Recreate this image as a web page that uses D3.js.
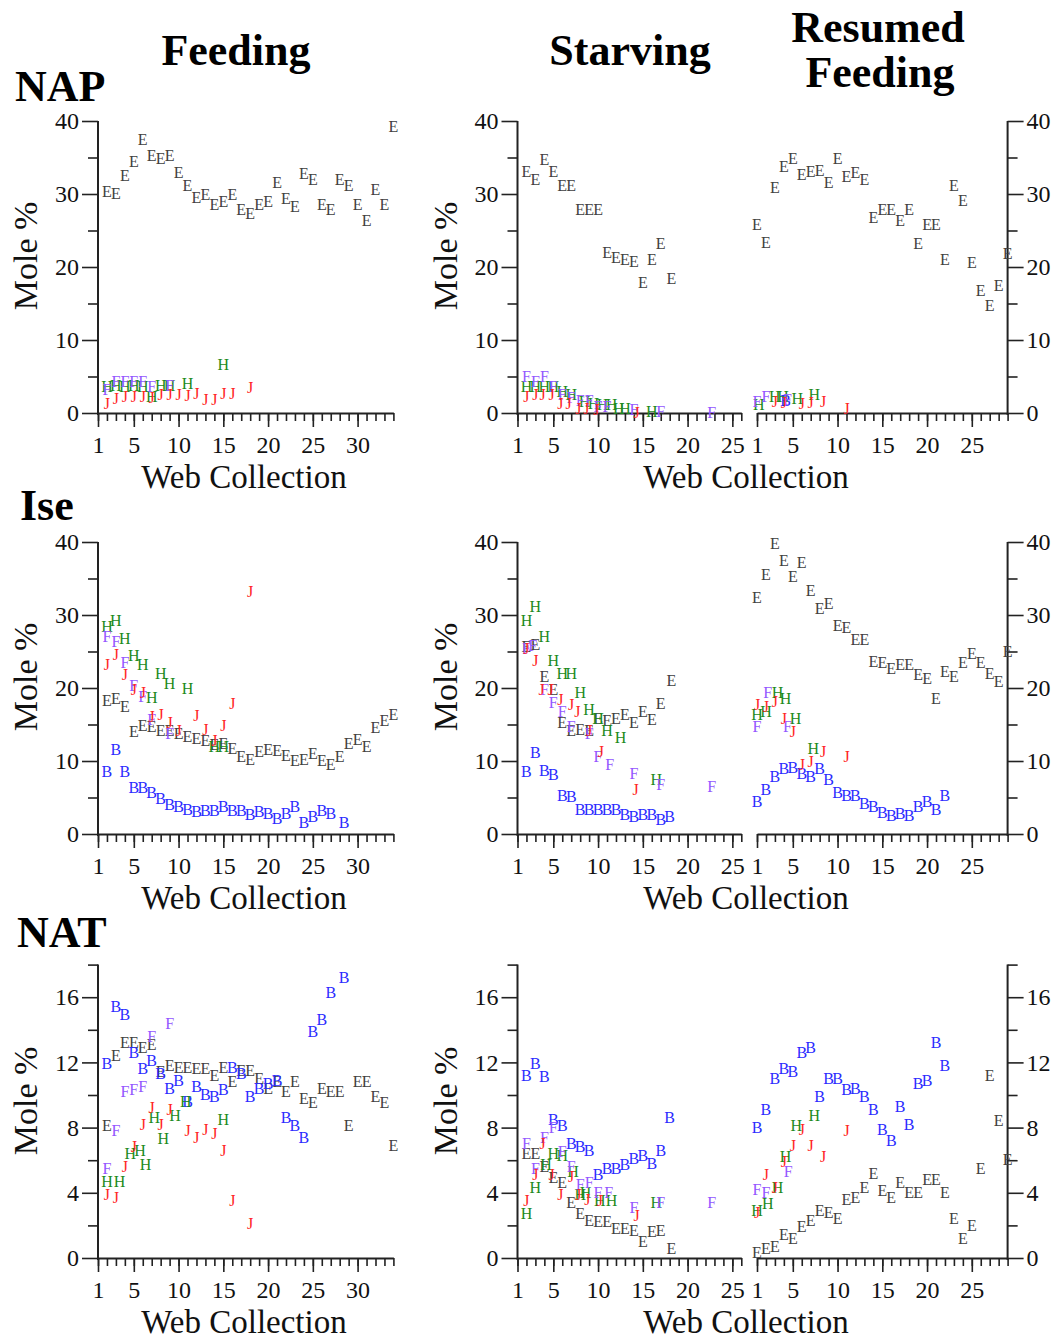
<!DOCTYPE html>
<html><head><meta charset="utf-8">
<script src="https://cdn.jsdelivr.net/npm/d3@7"></script>
<style>body{margin:0;background:#fff}svg{display:block}</style>
</head><body>
<script>
// ---------------- DATA (x = web collection, y = mole %) ----------------
const feedTicks = [1,5,10,15,20,25,30];
const sideTicks = [1,5,10,15,20,25];
const yTicks40 = [0,10,20,30,40];
const yTicks18 = [0,4,8,12,16];
const seriesLetters = ["E","B","H","F","J"];

// NAP
const napFeedE = [[2,30.3],[3,30.0],[4,32.5],[5,34.4],[6,37.4],[7,35.3],[8,34.9],[9,35.2],[10,32.9],[11,31.2],[12,29.5],[13,29.9],[14,28.6],[15,28.9],[16,29.9],[17,27.8],[18,27.3],[19,28.6],[20,28.9],[21,31.6],[22,29.3],[23,28.3],[24,32.8],[25,31.9],[26,28.5],[27,27.9],[28,31.9],[29,31.2],[30,28.6],[31,26.4],[32,30.6],[33,28.5],[34,39.2]];
const napFeedH = [[2,3.6],[3,3.8],[4,3.6],[5,3.7],[6,3.6],[7,2.2],[8,3.7],[9,3.7],[11,4.0],[15,6.6]];
const napFeedF = [[2,3.2],[3,4.3],[4,4.3],[5,4.3],[6,4.3],[7,3.6],[9,3.7]];
const napFeedJ = [[2,1.3],[3,2.0],[4,2.2],[5,2.2],[6,2.2],[7,2.1],[8,2.5],[9,2.5],[10,2.5],[11,2.3],[12,2.6],[13,1.8],[14,1.8],[15,2.6],[16,2.7],[18,3.4]];
const napStarvE = [[2,33.1],[3,31.9],[4,34.7],[5,33.1],[6,31.2],[7,31.1],[8,27.9],[9,27.9],[10,27.8],[11,21.9],[12,21.3],[13,21.0],[14,20.7],[15,17.8],[16,21.0],[17,23.2],[18.2,18.4]];
const napStarvF = [[2,5.0],[3,4.3],[4,5.0],[5,3.6],[6,2.5],[7,2.1],[8,1.7],[9,1.7],[10,0.9],[11,0.9],[14,0.5],[17,0.2],[22.7,0.1]];
const napStarvH = [[2,3.6],[3,3.6],[4,3.6],[5,3.6],[6,2.9],[7,2.5],[8.5,1.6],[9.5,1.3],[10.5,1.1],[11.5,1.1],[12.3,0.6],[13,0.6],[16,0.2]];
const napStarvJ = [[2,2.2],[3,2.5],[3.8,2.5],[4.8,2.5],[5.8,1.3],[6.7,1.3],[7.8,0.6],[8.7,0.6],[9.8,0.4],[14.3,0.0]];
const napResE = [[1,25.8],[2,23.3],[3,30.8],[4,33.7],[5,34.9],[6,32.6],[7,33.1],[8,33.2],[9,31.6],[10,34.9],[11,32.4],[12,32.9],[13,31.9],[14,26.7],[15,27.9],[16,27.8],[17,26.4],[18,27.9],[19,23.2],[20,25.8],[21,25.8],[22,21.0],[23,31.2],[24,29.1],[25,20.6],[26,16.8],[27,14.7],[28,17.4],[29,21.8]];
const napResB = [[4.2,1.7]];
const napResF = [[1,1.6],[2,2.2],[4.4,1.8]];
const napResH = [[1.2,1.1],[3,2.2],[3.9,2.2],[5.5,1.9],[7.4,2.5]];
const napResJ = [[3,1.6],[4,1.4],[6,1.3],[7,1.4],[8.4,1.6],[11,0.6]];

// Ise
const iseFeedE = [[2,18.3],[3,18.6],[4,17.4],[5,14.0],[6,14.9],[7,14.7],[8,14.2],[9,14.2],[10,13.8],[11,13.3],[12,13.0],[13,12.8],[14,12.2],[15,12.3],[16,11.7],[17,10.6],[18,10.2],[19,11.3],[20,11.5],[21,11.4],[22,10.7],[23,10.1],[24,10.2],[25,11.0],[26,10.1],[27,9.5],[28,10.6],[29,12.4],[30,12.9],[31,12.0],[32,14.5],[33,15.5],[34,16.3]];
const iseFeedB = [[2,8.5],[3,11.5],[4,8.5],[5,6.4],[6,6.4],[7,5.6],[8,4.9],[9,4.0],[10,3.7],[11,3.3],[12,3.1],[13,3.2],[14,3.2],[15,3.7],[16,3.2],[17,3.2],[18,2.7],[19,3.1],[20,2.8],[21,2.1],[22,2.8],[23,3.8],[24,1.6],[25,2.3],[26,3.2],[27,2.8],[28.5,1.5]];
const iseFeedH = [[2,28.4],[3,29.2],[4,26.7],[5,24.4],[6,23.2],[7,18.7],[8,22.0],[9,20.6],[11,19.9],[14,12.0],[15,12.0]];
const iseFeedF = [[2,27.0],[3,26.3],[4,23.4],[5,20.3],[6,18.8],[7,15.7],[9,13.8]];
const iseFeedJ = [[2,23.2],[3,24.5],[4,21.8],[5,19.8],[6,19.4],[7,16.1],[8,16.3],[9,15.2],[10,14.2],[12,16.2],[13,14.3],[14,12.8],[15,14.9],[16,17.9],[18,33.2]];
const iseStarvE = [[2,25.7],[3,25.9],[4,21.6],[5,19.8],[6,15.3],[7,14.2],[8,14.3],[9,14.2],[10,15.8],[11,15.5],[12,15.8],[13,16.4],[14,15.3],[15,16.8],[16,15.7],[17,17.9],[18.2,21.0]];
const iseStarvB = [[2,8.5],[3,11.1],[4,8.7],[5,8.1],[6,5.3],[7,5.1],[8,3.3],[9,3.3],[10,3.3],[11,3.3],[12,3.3],[13,2.7],[14,2.3],[15,2.7],[16,2.6],[17,2.0],[18,2.3]];
const iseStarvH = [[2,29.2],[3,31.1],[4,27.0],[5,23.7],[6,21.9],[7,21.9],[8,19.3],[9,17.0],[10,15.8],[11,14.2],[12.5,13.2],[16.5,7.5]];
const iseStarvF = [[2,25.4],[2.7,25.8],[4,19.7],[5,18.0],[6,16.8],[7,14.7],[9,13.7],[10,10.6],[11.3,9.5],[14,8.2],[17,6.7],[22.7,6.5]];
const iseStarvJ = [[2,25.4],[3,23.8],[3.7,19.8],[4.7,19.8],[5.8,18.4],[7,17.7],[7.7,16.8],[9,14.2],[10.3,11.3],[14.2,6.1]];
const iseResE = [[1,32.3],[2,35.5],[3,39.7],[4,37.4],[5,35.3],[6,37.2],[7,33.3],[8,30.9],[9,31.6],[10,28.6],[11,28.3],[12,26.6],[13,26.6],[14,23.6],[15,23.4],[16,22.6],[17,23.2],[18,23.2],[19,21.8],[20,21.3],[21,18.6],[22,22.2],[23,21.6],[24,23.4],[25,24.7],[26,23.4],[27,21.9],[28,20.9],[29,25.0]];
const iseResB = [[1,4.4],[2,6.1],[3,7.9],[4,8.9],[5,9.1],[6,8.2],[7,7.9],[8,8.9],[9,7.4],[10,5.6],[11,5.3],[12,5.3],[13,4.1],[14,3.7],[15,2.9],[16,2.5],[17,2.8],[18,2.5],[19,3.7],[20,4.4],[21,3.3],[22,5.3]];
const iseResH = [[1,16.3],[2,16.8],[3.3,19.3],[4.2,18.6],[5.3,15.8],[7.3,11.7]];
const iseResJ = [[1,17.7],[2,17.4],[3,18.1],[4,15.8],[5,14.0],[6,9.5],[7,9.9],[8.4,11.3],[11,10.6]];
const iseResF = [[1,14.7],[2.2,19.3],[4.4,14.7]];

// NAT
const natFeedE = [[2,8.1],[3,12.4],[4,13.2],[5,13.2],[6,12.9],[7,13.1],[8,11.4],[9,11.8],[10,11.7],[11,11.7],[12,11.6],[13,11.6],[14,11.2],[15,11.7],[16,10.8],[17,11.5],[18,11.5],[19,11.0],[20,10.4],[21,10.8],[22,10.2],[23,10.8],[24,9.8],[25,9.5],[26,10.4],[27,10.2],[28,10.2],[29,8.1],[30,10.8],[31,10.8],[32,9.9],[33,9.5],[34,6.9]];
const natFeedB = [[2,11.9],[3,15.4],[4,14.9],[5,12.6],[6,11.6],[7,12.1],[8,11.3],[9,10.4],[10,10.9],[11,9.6],[12,10.5],[13,10.0],[14,9.9],[15,10.3],[16,11.7],[17,11.3],[18,9.9],[19,10.4],[20,10.7],[21,10.9],[22,8.6],[23,8.1],[24,7.4],[25,13.9],[26,14.6],[27,16.3],[28.5,17.2]];
const natFeedF = [[2,5.5],[3,7.8],[4,10.2],[5,10.3],[6,10.5],[7,13.6],[9,14.4]];
const natFeedH = [[2,4.7],[3.4,4.7],[4.6,6.4],[5.7,6.6],[6.3,5.7],[7.3,8.6],[8.3,7.3],[9.6,8.7],[10.8,9.6],[15,8.5]];
const natFeedJ = [[2,3.9],[3,3.7],[4,5.6],[5,6.8],[6,8.2],[7,9.2],[8,8.2],[9,9.1],[11,7.8],[12,7.4],[13,7.9],[14,7.6],[15,6.6],[16,3.5],[18,2.1]];
const natStarvE = [[2,6.4],[3,6.4],[4,5.6],[5,4.9],[6,4.6],[7,3.4],[8,2.7],[9,2.3],[10,2.2],[11,2.2],[12,1.8],[13,1.8],[14,1.7],[15,1.0],[16,1.6],[17,1.7],[18.2,0.6]];
const natStarvB = [[2,11.2],[3,11.9],[4,11.1],[5,8.5],[6,8.1],[7,7.0],[8,6.8],[9,6.6],[10,5.1],[11,5.5],[12,5.5],[13,5.7],[14,6.1],[15,6.3],[16,5.8],[17,6.6],[18,8.6]];
const natStarvF = [[2,7.0],[3,5.5],[4,7.4],[5,8.0],[6,6.5],[7,5.6],[8,4.5],[9,4.6],[10,4.0],[11.2,4.0],[14,3.1],[17,3.4],[22.7,3.4]];
const natStarvH = [[2,2.7],[3,4.3],[4.2,5.7],[5,6.4],[6,6.3],[7.2,5.3],[8,3.9],[8.6,4.0],[10.2,3.5],[11.5,3.5],[16.5,3.4]];
const natStarvJ = [[2,3.5],[3,5.1],[3.8,7.0],[4.8,5.1],[5.8,3.9],[7,5.0],[7.8,3.9],[8.8,3.6],[10.2,3.5],[14.3,2.6]];
const natResE = [[1,0.35],[2,0.6],[3,0.7],[4,1.4],[5,1.2],[6,1.9],[7,2.3],[8,2.9],[9,2.8],[10,2.4],[11,3.6],[12,3.7],[13,4.3],[14,5.2],[15,4.1],[16,3.7],[17,4.6],[18,4.0],[19,4.0],[20,4.8],[21,4.8],[22,4.0],[23,2.4],[24,1.2],[25,2.0],[26,5.5],[27,11.2],[28,8.4],[29,6.0]];
const natResB = [[1,8.0],[2,9.1],[3,11.0],[4,11.6],[5,11.4],[6,12.6],[7,12.9],[8,9.9],[9,11.0],[10,11.0],[11,10.3],[12,10.4],[13,9.9],[14,9.1],[15,7.9],[16,7.2],[17,9.3],[18,8.2],[19,10.7],[20,10.9],[21,13.2],[22,11.8]];
const natResH = [[1,2.9],[2.2,3.3],[3.3,4.3],[4.2,6.2],[5.4,8.1],[7.4,8.7]];
const natResJ = [[1,2.8],[2,5.1],[3,4.3],[4,5.9],[5,6.9],[6,7.9],[7,6.9],[8.4,6.2],[11,7.8]];
const natResF = [[1,4.2],[2,4.0],[4.5,5.3]];

// ---------------- LAYOUT ----------------
const W = 1061, Hh = 1339;
const serif = "'Liberation Serif','Times New Roman',Times,serif";
const colors = {E:"#404040", B:"#2b2bff", H:"#1c8a1c", F:"#9457ff", J:"#ff2424"};
const axisColor = "#222";

const svg = d3.select("body").append("svg").attr("width", W).attr("height", Hh)
  .style("font-family", serif);

const rows = [
  {label:"NAP", lx:15, ly:101, y0:413, yTop:121, max:40, major:yTicks40, minorStep:5,
   feed:{E:napFeedE,H:napFeedH,F:napFeedF,J:napFeedJ},
   starv:{E:napStarvE,H:napStarvH,F:napStarvF,J:napStarvJ},
   res:{E:napResE,B:napResB,H:napResH,F:napResF,J:napResJ}},
  {label:"Ise", lx:20, ly:520, y0:834, yTop:542, max:40, major:yTicks40, minorStep:5,
   feed:{E:iseFeedE,B:iseFeedB,H:iseFeedH,F:iseFeedF,J:iseFeedJ},
   starv:{E:iseStarvE,B:iseStarvB,H:iseStarvH,F:iseStarvF,J:iseStarvJ},
   res:{E:iseResE,B:iseResB,H:iseResH,F:iseResF,J:iseResJ}},
  {label:"NAT", lx:17, ly:947, y0:1258, yTop:964.6, max:18, major:yTicks18, minorStep:2,
   feed:{E:natFeedE,B:natFeedB,H:natFeedH,F:natFeedF,J:natFeedJ},
   starv:{E:natStarvE,B:natStarvB,H:natStarvH,F:natStarvF,J:natStarvJ},
   res:{E:natResE,B:natResB,H:natResH,F:natResF,J:natResJ}}
];

const xFeed  = d3.scaleLinear().domain([1,34]).range([98, 393.4]);
const xStarv = d3.scaleLinear().domain([1,26]).range([517.5, 741.3]);
const xRes   = d3.scaleLinear().domain([1,29]).range([757, 1007.6]);

// headers
function bold(t,x,y,anchor){
  svg.append("text").attr("x",x).attr("y",y).attr("text-anchor",anchor||"middle")
    .attr("font-size",44).attr("font-weight","bold").attr("fill","#000").text(t);
}
bold("Feeding",236,65);
bold("Starving",630,65);
bold("Resumed",878,42);
bold("Feeding",880,87);

function styleAxis(g){
  g.select(".domain").attr("stroke",axisColor).attr("stroke-width",2);
  g.selectAll(".tick line").attr("stroke",axisColor).attr("stroke-width",1.6);
  g.selectAll(".tick text").attr("fill","#111").attr("font-size",24).attr("font-family",serif);
}

function xAxis(scale, y0, labels){
  const [d0,d1] = scale.domain();
  const minor = d3.range(d0, d1+1);
  const gm = svg.append("g").attr("transform",`translate(0,${y0})`)
    .call(d3.axisBottom(scale).tickValues(minor).tickSize(8).tickSizeOuter(0).tickFormat(""));
  styleAxis(gm);
  const gM = svg.append("g").attr("transform",`translate(0,${y0})`)
    .call(d3.axisBottom(scale).tickValues(labels).tickSize(14).tickSizeOuter(0).tickPadding(9).tickFormat(d3.format("d")));
  styleAxis(gM);
  gM.select(".domain").remove();
}

function yAxis(yScale, x, row, right){
  const minor = d3.range(0, row.max+0.001, row.minorStep).filter(v=>!row.major.includes(v));
  const mk = right ? d3.axisRight : d3.axisLeft;
  const gm = svg.append("g").attr("transform",`translate(${x},0)`)
    .call(mk(yScale).tickValues(minor).tickSize(10).tickSizeOuter(0).tickFormat(""));
  styleAxis(gm);
  gm.select(".domain").attr("d", `M0,${row.y0+2}V${row.yTop}`);
  const gM = svg.append("g").attr("transform",`translate(${x},0)`)
    .call(mk(yScale).tickValues(row.major).tickSize(16).tickSizeOuter(0).tickPadding(3).tickFormat(d3.format("d")));
  styleAxis(gM);
  gM.select(".domain").remove();
}

function plotSeries(xs, ys, series){
  seriesLetters.forEach(k=>{
    const pts = series[k];
    if(!pts) return;
    svg.append("g").selectAll("text").data(pts).join("text")
      .attr("x", d=>xs(d[0])).attr("y", d=>ys(d[1]))
      .attr("dy","0.33em").attr("text-anchor","middle")
      .attr("font-size",16).attr("fill",colors[k]).text(k);
  });
}

function titles(y0, cxWeb, xMole, cyMole){
  svg.append("text").attr("x",cxWeb).attr("y",y0+75).attr("text-anchor","middle")
    .attr("font-size",33).attr("fill","#111").text("Web Collection");
  svg.append("text").attr("transform",`translate(${xMole},${cyMole}) rotate(-90)`)
    .attr("text-anchor","middle").attr("font-size",34).attr("fill","#111").text("Mole %");
}

rows.forEach(row=>{
  const ys = d3.scaleLinear().domain([0,row.max]).range([row.y0,row.yTop]);
  bold(row.label,row.lx,row.ly,"start");
  // left column
  yAxis(ys, 98, row, false);
  xAxis(xFeed, row.y0, feedTicks);
  plotSeries(xFeed, ys, row.feed);
  titles(row.y0, 244, 37, row.y0-157);
  // right column
  yAxis(ys, 517.5, row, false);
  xAxis(xStarv, row.y0, sideTicks);
  xAxis(xRes, row.y0, sideTicks);
  yAxis(ys, 1007.6, row, true);
  plotSeries(xStarv, ys, row.starv);
  plotSeries(xRes, ys, row.res);
  titles(row.y0, 746, 457, row.y0-157);
});
</script>
</body></html>
